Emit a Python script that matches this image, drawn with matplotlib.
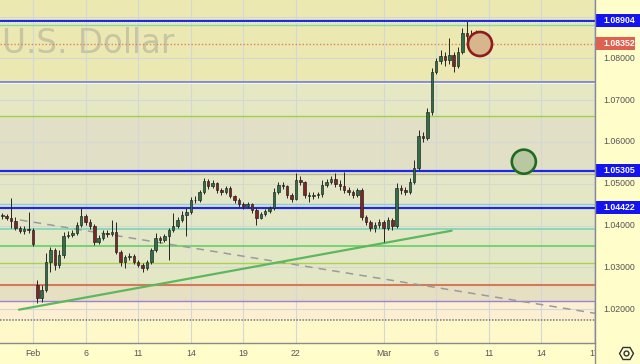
import numpy as np
import matplotlib
matplotlib.use("Agg")
import matplotlib.pyplot as plt
import matplotlib.transforms as mtransforms
from matplotlib.patches import Rectangle
from matplotlib.lines import Line2D

# ---------------- data (6h candles, x in trading days from Feb 1) ----------------
opens = [1.0423, 1.0423, 1.0418, 1.0411, 1.0394, 1.0387, 1.0392, 1.0389,
         1.0258, 1.0227, 1.0246, 1.0313, 1.0341, 1.0306, 1.0329, 1.0375,
         1.0377, 1.0382, 1.0401, 1.0423, 1.0408, 1.0399, 1.0361, 1.0370,
         1.0382, 1.0380, 1.0385, 1.0337, 1.0313, 1.0325, 1.0327, 1.0313,
         1.0306, 1.0298, 1.0313, 1.0341, 1.0370, 1.0365, 1.0375, 1.0389,
         1.0399, 1.0413, 1.0425, 1.0432, 1.0461, 1.0461, 1.0480, 1.0507,
         1.0495, 1.0502, 1.0485, 1.0480, 1.0490, 1.0471, 1.0461, 1.0452,
         1.0447, 1.0452, 1.0437, 1.0418, 1.0428, 1.0435, 1.0442, 1.0480,
         1.0497, 1.0495, 1.0473, 1.0463, 1.0509, 1.0504, 1.0473, 1.0471,
         1.0473, 1.0475, 1.0497, 1.0504, 1.0511, 1.0499, 1.0495, 1.0485,
         1.0480, 1.0473, 1.0485, 1.0420, 1.0408, 1.0394, 1.0401, 1.0408,
         1.0394, 1.0413, 1.0399, 1.0490, 1.0485, 1.0480, 1.0504, 1.0538,
         1.0614, 1.0609, 1.0672, 1.0767, 1.0794, 1.0806, 1.0796, 1.0808,
         1.0782, 1.0815, 1.0861, 1.0853, 1.0849]
highs = [1.0430, 1.0428, 1.0466, 1.0420, 1.0399, 1.0399, 1.0432, 1.0394,
         1.0270, 1.0258, 1.0334, 1.0349, 1.0346, 1.0341, 1.0385, 1.0387,
         1.0389, 1.0408, 1.0442, 1.0428, 1.0416, 1.0404, 1.0377, 1.0389,
         1.0389, 1.0413, 1.0408, 1.0341, 1.0329, 1.0334, 1.0332, 1.0318,
         1.0310, 1.0318, 1.0346, 1.0382, 1.0375, 1.0380, 1.0394, 1.0430,
         1.0420, 1.0435, 1.0442, 1.0468, 1.0471, 1.0485, 1.0514, 1.0511,
         1.0509, 1.0504, 1.0490, 1.0495, 1.0495, 1.0473, 1.0466, 1.0456,
         1.0456, 1.0454, 1.0442, 1.0432, 1.0440, 1.0447, 1.0490, 1.0504,
         1.0504, 1.0497, 1.0478, 1.0526, 1.0519, 1.0507, 1.0480, 1.0480,
         1.0480, 1.0509, 1.0511, 1.0519, 1.0526, 1.0509, 1.0528, 1.0492,
         1.0485, 1.0490, 1.0490, 1.0425, 1.0413, 1.0408, 1.0416, 1.0413,
         1.0420, 1.0418, 1.0502, 1.0497, 1.0492, 1.0514, 1.0557, 1.0628,
         1.0624, 1.0681, 1.0777, 1.0801, 1.0820, 1.0815, 1.0849, 1.0815,
         1.0827, 1.0873, 1.0889, 1.0868, 1.0868]
lows = [1.0416, 1.0413, 1.0394, 1.0389, 1.0382, 1.0380, 1.0382, 1.0351,
        1.0215, 1.0217, 1.0241, 1.0289, 1.0294, 1.0298, 1.0322, 1.0370,
        1.0373, 1.0377, 1.0396, 1.0401, 1.0392, 1.0353, 1.0356, 1.0365,
        1.0373, 1.0375, 1.0332, 1.0303, 1.0298, 1.0318, 1.0308, 1.0301,
        1.0289, 1.0294, 1.0308, 1.0337, 1.0358, 1.0361, 1.0318, 1.0385,
        1.0394, 1.0408, 1.0375, 1.0428, 1.0454, 1.0456, 1.0475, 1.0487,
        1.0490, 1.0478, 1.0473, 1.0475, 1.0466, 1.0454, 1.0444, 1.0440,
        1.0442, 1.0430, 1.0401, 1.0416, 1.0423, 1.0430, 1.0437, 1.0475,
        1.0487, 1.0466, 1.0456, 1.0461, 1.0497, 1.0466, 1.0456, 1.0463,
        1.0466, 1.0468, 1.0492, 1.0499, 1.0492, 1.0485, 1.0478, 1.0473,
        1.0466, 1.0468, 1.0413, 1.0401, 1.0387, 1.0385, 1.0394, 1.0361,
        1.0389, 1.0389, 1.0394, 1.0475, 1.0473, 1.0475, 1.0499, 1.0533,
        1.0600, 1.0605, 1.0664, 1.0763, 1.0786, 1.0782, 1.0786, 1.0767,
        1.0777, 1.0810, 1.0839, 1.0834, 1.0830]
closes = [1.0423, 1.0418, 1.0411, 1.0394, 1.0387, 1.0392, 1.0389, 1.0356,
          1.0227, 1.0246, 1.0313, 1.0341, 1.0306, 1.0329, 1.0375, 1.0377,
          1.0382, 1.0401, 1.0423, 1.0408, 1.0399, 1.0361, 1.0370, 1.0382,
          1.0380, 1.0385, 1.0337, 1.0313, 1.0325, 1.0327, 1.0313, 1.0306,
          1.0298, 1.0313, 1.0341, 1.0370, 1.0365, 1.0375, 1.0389, 1.0399,
          1.0413, 1.0425, 1.0432, 1.0461, 1.0461, 1.0480, 1.0507, 1.0495,
          1.0502, 1.0485, 1.0480, 1.0490, 1.0471, 1.0461, 1.0452, 1.0447,
          1.0452, 1.0437, 1.0418, 1.0428, 1.0435, 1.0442, 1.0480, 1.0497,
          1.0495, 1.0473, 1.0463, 1.0509, 1.0504, 1.0473, 1.0471, 1.0473,
          1.0475, 1.0497, 1.0504, 1.0511, 1.0499, 1.0495, 1.0485, 1.0480,
          1.0473, 1.0485, 1.0420, 1.0408, 1.0394, 1.0401, 1.0408, 1.0394,
          1.0413, 1.0399, 1.0490, 1.0485, 1.0480, 1.0504, 1.0538, 1.0614,
          1.0609, 1.0672, 1.0767, 1.0794, 1.0806, 1.0796, 1.0808, 1.0782,
          1.0815, 1.0861, 1.0853, 1.0849, 1.0835]
first_day = -1.75
bar_step = 0.25   # 6-hour bars, in trading days

date_labels = ["Feb", "6", "11", "14", "19", "22", "Mar", "6", "11", "14", "17"]
date_days = [0, 3, 6, 9, 12, 15, 20, 23, 26, 29, 32]

grid_prices = [1.02, 1.03, 1.04, 1.05, 1.06, 1.07, 1.08, 1.09]
price_ticks = [1.02, 1.03, 1.04, 1.05, 1.06, 1.07, 1.08]

# horizontal levels: (price, colour, linewidth, style)
levels = [
    (1.08904, "#1c28e6", 1.6, "-"),
    (1.08797, "#86d9ad", 1.0, "-"),
    (1.07445, "#7a86d4", 1.3, "-"),
    (1.06620, "#9fd14a", 1.0, "-"),
    (1.05305, "#1c28e6", 1.6, "-"),
    (1.05239, "#bdb597", 1.0, "-"),
    (1.04515, "#8cc9e4", 1.0, "-"),
    (1.04422, "#1c28e6", 1.6, "-"),
    (1.03917, "#7ad6b6", 1.2, "-"),
    (1.03510, "#62d162", 1.2, "-"),
    (1.03103, "#aad24c", 1.0, "-"),
    (1.02577, "#d4795c", 1.5, "-"),
    (1.02194, "#9c82d6", 1.0, "-"),
]
dotted_level = 1.01740
current_price = 1.08352

# background bands (low, high, colour)
bands = [
    (1.07445, 1.1, "#ebe8b1"),
    (1.06620, 1.07445, "#e5e8c3"),
    (1.05305, 1.06620, "#e1e0c6"),
    (1.02577, 1.05305, "#e4e7c5"),
    (1.02194, 1.02577, "#e7dfc1"),
    (1.01740, 1.02194, "#fcefd2"),
    (1.00, 1.01740, "#fff8c9"),
]

support_days = [-0.80, 23.88]
support_prices = [1.01986, 1.03876]
dash_days = [-0.74, 32.06]
dash_prices = [1.04132, 1.01900]

circle_days = [25.5, 28.0]
circle_prices = [1.08342, 1.05527]
circle_edges = ["#8e1c1c", "#1f6b22"]
circle_faces = ["#d8b68c", "#b8c9a2"]

box_labels = [("1.08904", 1.08904, "#1414f0", 640),
              ("1.08352", 1.08352, "#e0604f", 635),
              ("1.05305", 1.05305, "#1414f0", 640),
              ("1.04422", 1.04422, "#1414f0", 640)]

# ---------------- figure ----------------
W, H = 640, 364
fig = plt.figure(figsize=(6.4, 3.64), dpi=100, facecolor="#fffdca")
plot_w, plot_h = 595, 343
ax = fig.add_axes([0, (H - plot_h) / H, plot_w / W, plot_h / H])
xlim = (-1.88, 32.06)
ylim = (1.01189, 1.09395)
ax.set_xlim(*xlim)
ax.set_ylim(*ylim)
ax.set_xticks([]); ax.set_yticks([])
for s in ax.spines.values():
    s.set_visible(False)

for lo, hi, c in bands:
    ax.axhspan(lo, hi, color=c, zorder=0, lw=0)

for p in grid_prices:
    ax.axhline(p, color="#d3d7d6", lw=0.8, zorder=1)
for d in date_days:
    ax.axvline(d, color="#d3d7d6", lw=0.8, zorder=1)

ax.text(0.004, 0.845, "U.S. Dollar", transform=ax.transAxes, fontsize=23.5,
        color="#c7c5a3", va="baseline", ha="left", zorder=1.5,
        family="DejaVu Sans")

for p, c, lw, ls in levels:
    ax.axhline(p, color=c, lw=lw, ls=ls, zorder=2)
ax.axhline(1.08862, color="#f4f4ee", lw=0.8, ls=(0, (1, 1)), zorder=2)
ax.axhline(1.07410, color="#f6f6ee", lw=0.8, zorder=2)
ax.axhline(dotted_level, color="#777777", lw=1.1, ls=(0, (1, 1)), zorder=2)
ax.axhline(current_price, color="#e2835f", lw=1.0, ls=(0, (1, 1.5)), zorder=2)

ax.plot(dash_days, dash_prices, color="#9b9b9b", lw=1.1, ls=(0, (5, 4)), zorder=3)
ax.plot(support_days, support_prices, color="#5cb85c", lw=1.6, zorder=3,
        solid_capstyle="round")

# candles
o = np.array(opens); h = np.array(highs); l = np.array(lows); c = np.array(closes)
days = first_day + bar_step * np.arange(len(o))
up = c >= o
ax.vlines(days, np.minimum(l, np.minimum(o, c)), np.maximum(h, np.maximum(o, c)),
          color="#262626", lw=0.7, zorder=4)
body_lo = np.minimum(o, c)
body_h = np.maximum(np.abs(c - o), 0.00012)
ax.bar(days[up], body_h[up], bottom=body_lo[up], width=0.14,
       color="#2f6e48", edgecolor="#1a221c", lw=0.45, zorder=5)
ax.bar(days[~up], body_h[~up], bottom=body_lo[~up], width=0.14,
       color="#7c2626", edgecolor="#221a1a", lw=0.45, zorder=5)

ax.scatter(circle_days, circle_prices, s=300, facecolors=circle_faces,
           edgecolors=circle_edges, linewidths=1.9, zorder=6)

# ---------------- right price scale ----------------
bt = mtransforms.blended_transform_factory(fig.transFigure, ax.transData)
for p in price_ticks:
    ax.text(603 / W, p, f"{p:.5f}", transform=bt, fontsize=6.3, color="#555555",
            va="center", ha="left", family="Liberation Sans", clip_on=False, zorder=10)
half = 6.5 * (ylim[1] - ylim[0]) / plot_h
for txt, p, col, xr in box_labels:
    r = Rectangle((596 / W, p - half), (xr - 596) / W, 2 * half, transform=bt,
                  facecolor=col, edgecolor="none", clip_on=False, zorder=11)
    ax.add_patch(r)
    ax.text(603 / W, p, txt, transform=bt, fontsize=6.3, color="white",
            va="center", ha="left", family="Liberation Sans", fontweight="bold",
            clip_on=False, zorder=12)

# ---------------- time scale ----------------
axt = fig.add_axes([0, 0, plot_w / W, (H - plot_h) / H])
axt.set_xlim(*xlim); axt.set_ylim(0, 1)
axt.axis("off")
for lab, d in zip(date_labels, date_days):
    axt.text(d, 0.5, lab, fontsize=6.3, color="#555555", ha="center", va="center",
             family="Liberation Sans", clip_on=True)

# separators
fig.add_artist(Line2D([plot_w / W, plot_w / W], [0, 1], color="#8a8a8a", lw=1.0,
                      transform=fig.transFigure))
fig.add_artist(Line2D([0, plot_w / W], [(H - plot_h) / H] * 2, color="#8a8a8a", lw=1.0,
                      transform=fig.transFigure))
# settings icon
fig.add_artist(Line2D([626 / W], [11 / H], marker="H", markersize=10, mfc="none",
                      mec="#333333", mew=1.0, transform=fig.transFigure))
fig.add_artist(Line2D([626 / W], [11 / H], marker="o", markersize=3.5, mfc="none",
                      mec="#333333", mew=1.0, transform=fig.transFigure))

fig.savefig("out.png", dpi=100, facecolor=fig.get_facecolor())
